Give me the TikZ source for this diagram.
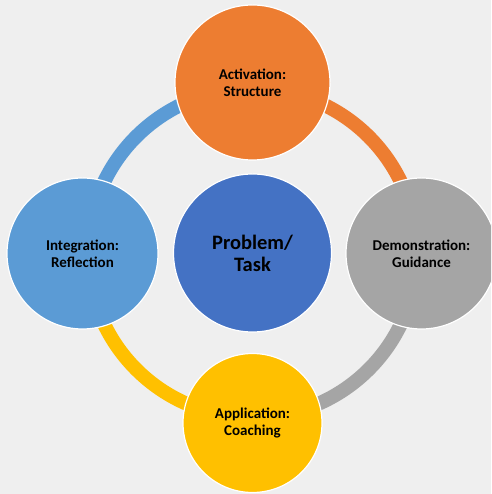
\documentclass[tikz,border=0pt]{standalone}
\usepackage{fontspec}
\setmainfont{Carlito}
\definecolor{bgc}{HTML}{EFEFEF}
\definecolor{c-orange}{HTML}{ED7D31}
\definecolor{c-gray}{HTML}{A5A5A5}
\definecolor{c-gold}{HTML}{FFC000}
\definecolor{c-lblue}{HTML}{5B9BD5}
\definecolor{c-blue}{HTML}{4472C4}
\tikzset{
  bubble/.style={circle, draw=white, line width=1.2pt, inner sep=0pt, align=center,
    font=\bfseries\fontsize{15}{17}\selectfont, text=black},
  band/.style={line width=14pt}
}
\begin{document}
\begin{tikzpicture}[x=1pt,y=1pt]
\useasboundingbox (0,0) rectangle (491,494);
\clip (0,0) rectangle (491,494);
\fill[bgc] (0,0) rectangle (491,494);
\coordinate (rc) at (252.5,241);
\draw[band,c-orange] (rc) ++(0:164.5) arc[start angle=0,end angle=90,radius=164.5];
\draw[band,c-lblue] (rc) ++(90:164.5) arc[start angle=90,end angle=180,radius=164.5];
\draw[band,c-gold] (rc) ++(180:164.5) arc[start angle=180,end angle=270,radius=164.5];
\draw[band,c-gray] (rc) ++(270:164.5) arc[start angle=270,end angle=360,radius=164.5];
\node[bubble, fill=c-blue, minimum size=158pt, font=\bfseries\fontsize{20.5}{22}\selectfont] (center) at (252.5,241) {Problem/\\Task};
\node[bubble, fill=c-orange, minimum size=155pt] (act) at (252.5,411.5) {Activation:\\Structure};
\node[bubble, fill=c-gray, minimum size=151pt] (demo) at (421.5,240.5) {Demonstration:\\Guidance};
\node[bubble, fill=c-gold, minimum size=139pt] (app) at (252.5,71) {Application:\\Coaching};
\node[bubble, fill=c-lblue, minimum size=151pt] (integ) at (82.5,240.5) {Integration:\\Reflection};
\end{tikzpicture}
\end{document}
